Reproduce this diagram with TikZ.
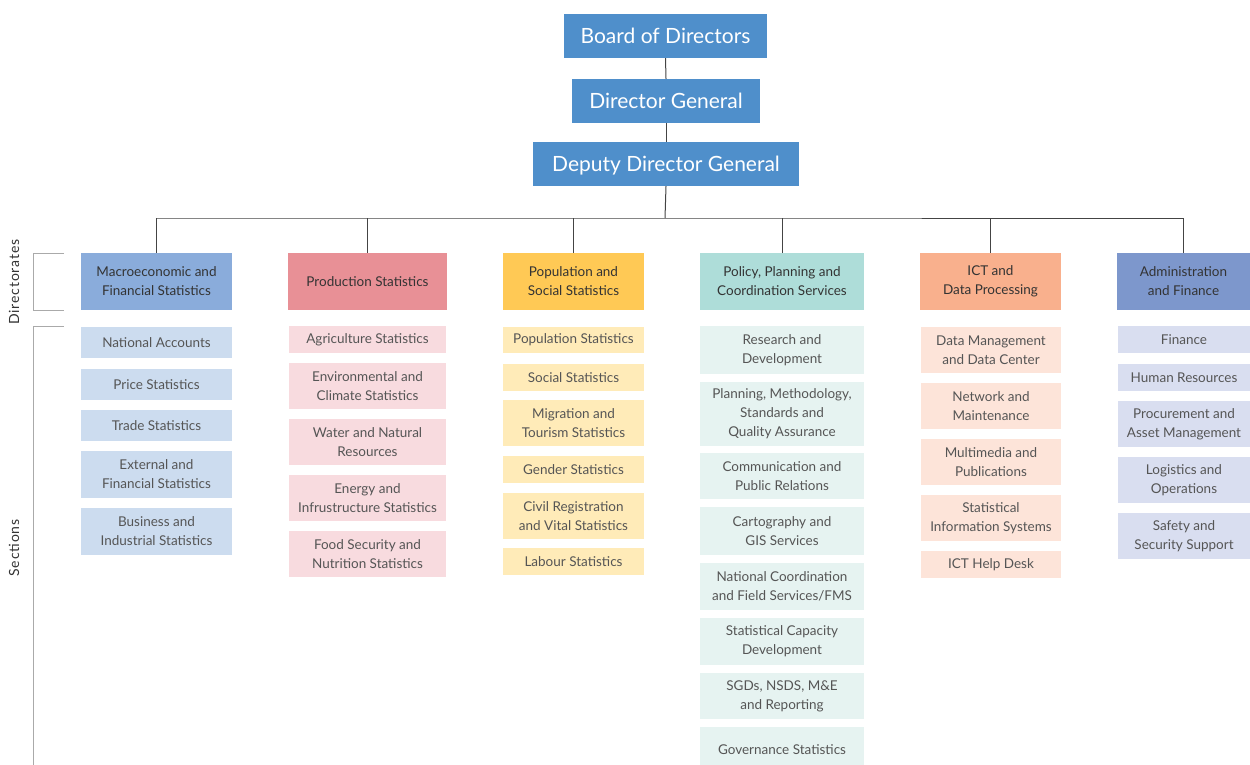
\documentclass[tikz,border=0pt]{standalone}
\usepackage{fontspec}
\setmainfont{Lato}
\definecolor{topblue}{HTML}{4F8FCB}
\definecolor{dmac}{HTML}{8AACDB}\definecolor{smac}{HTML}{CCDCEF}
\definecolor{dpro}{HTML}{E89096}\definecolor{spro}{HTML}{F8DBDF}
\definecolor{dpop}{HTML}{FFC955}\definecolor{spop}{HTML}{FFEBB8}
\definecolor{dpol}{HTML}{AEDDD9}\definecolor{spol}{HTML}{E6F3F1}
\definecolor{dict}{HTML}{F9B08D}\definecolor{sict}{HTML}{FDE4D9}
\definecolor{dadm}{HTML}{7D97CC}\definecolor{sadm}{HTML}{D9DEF0}
\definecolor{linec}{HTML}{444444}
\definecolor{brk}{HTML}{AAAAAA}
\definecolor{dtext}{HTML}{333333}
\definecolor{stext}{HTML}{555555}
\newcommand{\obox}[7]{%
  \node[#1, minimum width={(#5-#3)*1pt}, minimum height={(#6-#4)*1pt}] (#2) at ({(#3+#5)/2},{(#4+#6)/2}) {#7};}
\tikzset{
  topbox/.style={fill=topblue, text=white, inner sep=0pt, text height=15pt, text depth=0pt, font=\fontsize{21}{25}\selectfont},
  dirbox/.style={inner sep=0pt, align=center, text=dtext, font=\fontsize{13.5}{19}\selectfont},
  secbox/.style={inner sep=0pt, align=center, text=stext, font=\fontsize{13.5}{19}\selectfont},
  conn/.style={draw=linec, line width=1pt},
  bracket/.style={draw=brk, line width=1pt},
  sidelabel/.style={rotate=90, text=dtext, font=\fontsize{14}{16}\selectfont\addfontfeatures{LetterSpace=6}}
}
\begin{document}
\begin{tikzpicture}[x=1pt,y=-1pt]
\useasboundingbox (0,0) rectangle (1250,764);
\begin{scope}
\clip (0,0) rectangle (1250,764);
% top
\obox{topbox}{bod}{564}{14}{767}{58}{Board of Directors}
\obox{topbox}{dg}{572}{79}{760}{123}{Director General}
\obox{topbox}{ddg}{533}{142}{799}{186}{Deputy Director General}
% directorates
\obox{dirbox,fill=dmac}{d1}{81}{253}{232}{310}{Macroeconomic and\\Financial Statistics}
\obox{dirbox,fill=dpro}{d2}{288}{253}{447}{310}{Production Statistics}
\obox{dirbox,fill=dpop}{d3}{503}{253}{644}{310}{Population and\\Social Statistics}
\obox{dirbox,fill=dpol}{d4}{700}{253}{864}{310}{Policy, Planning and\\Coordination Services}
\obox{dirbox,fill=dict}{d5}{920}{253}{1061}{310}{ICT and\\Data Processing}
\obox{dirbox,fill=dadm}{d6}{1117}{253}{1250}{310}{Administration\\and Finance}
% connectors
\coordinate (bus) at (665,218);
\draw[conn] (bod.south) -- (dg.north);
\draw[conn] (dg.south) -- (ddg.north);
\draw[conn] (ddg.south) -- (bus);
\draw[conn] (d1.north |- bus) -- (bus) -- (1184,218) coordinate (busr);
\draw[conn] (d1.north) -- (d1.north |- bus);
\draw[conn] (d2.north) -- (d2.north |- bus);
\draw[conn] (d3.north) -- (d3.north |- bus);
\draw[conn] (d4.north) -- (d4.north |- bus);
\draw[conn] (d5.north) -- (d5.north |- bus);
\draw[conn] (d6.north) -- (d6.north |- bus);
% col 1
\obox{secbox,fill=smac}{s11}{81}{327}{232}{358}{National Accounts}
\obox{secbox,fill=smac}{s12}{81}{369}{232}{400}{Price Statistics}
\obox{secbox,fill=smac}{s13}{81}{410}{232}{441}{Trade Statistics}
\obox{secbox,fill=smac}{s14}{81}{451}{232}{498}{External and\\Financial Statistics}
\obox{secbox,fill=smac}{s15}{81}{508}{232}{555}{Business and\\Industrial Statistics}
% col 2
\obox{secbox,fill=spro}{s21}{289}{326}{446}{353}{Agriculture Statistics}
\obox{secbox,fill=spro}{s22}{289}{363}{446}{409}{Environmental and\\Climate Statistics}
\obox{secbox,fill=spro}{s23}{289}{419}{446}{465}{Water and Natural\\Resources}
\obox{secbox,fill=spro}{s24}{289}{475}{446}{521}{Energy and\\Infrustructure Statistics}
\obox{secbox,fill=spro}{s25}{289}{531}{446}{577}{Food Security and\\Nutrition Statistics}
% col 3
\obox{secbox,fill=spop}{s31}{503}{327}{644}{353}{Population Statistics}
\obox{secbox,fill=spop}{s32}{503}{364}{644}{391}{Social Statistics}
\obox{secbox,fill=spop}{s33}{503}{400}{644}{446}{Migration and\\Tourism Statistics}
\obox{secbox,fill=spop}{s34}{503}{456}{644}{483}{Gender Statistics}
\obox{secbox,fill=spop}{s35}{503}{493}{644}{539}{Civil Registration\\and Vital Statistics}
\obox{secbox,fill=spop}{s36}{503}{548}{644}{575}{Labour Statistics}
% col 4
\obox{secbox,fill=spol}{s41}{700}{326}{864}{374}{Research and\\Development}
\obox{secbox,fill=spol}{s42}{700}{382}{864}{446}{Planning, Methodology,\\Standards and\\Quality Assurance}
\obox{secbox,fill=spol}{s43}{700}{453}{864}{499}{Communication and\\Public Relations}
\obox{secbox,fill=spol}{s44}{700}{507}{864}{555}{Cartography and\\GIS Services}
\obox{secbox,fill=spol}{s45}{700}{563}{864}{610}{National Coordination\\and Field Services/FMS}
\obox{secbox,fill=spol}{s46}{700}{618}{864}{665}{Statistical Capacity\\Development}
\obox{secbox,fill=spol}{s47}{700}{673}{864}{719}{SGDs, NSDS, M\&E\\and Reporting}
\obox{secbox,fill=spol}{s48}{700}{727}{864}{773}{Governance Statistics}
% col 5
\obox{secbox,fill=sict}{s51}{921}{327}{1061}{373}{Data Management\\and Data Center}
\obox{secbox,fill=sict}{s52}{921}{383}{1061}{429}{Network and\\Maintenance}
\obox{secbox,fill=sict}{s53}{921}{439}{1061}{485}{Multimedia and\\Publications}
\obox{secbox,fill=sict}{s54}{921}{495}{1061}{541}{Statistical\\Information Systems}
\obox{secbox,fill=sict}{s55}{921}{551}{1061}{578}{ICT Help Desk}
% col 6
\obox{secbox,fill=sadm}{s61}{1118}{326}{1250}{353}{Finance}
\obox{secbox,fill=sadm}{s62}{1118}{364}{1250}{391}{Human Resources}
\obox{secbox,fill=sadm}{s63}{1118}{401}{1250}{447}{Procurement and\\Asset Management}
\obox{secbox,fill=sadm}{s64}{1118}{457}{1250}{503}{Logistics and\\Operations}
\obox{secbox,fill=sadm}{s65}{1118}{513}{1250}{559}{Safety and\\Security Support}
% brackets and side labels
\draw[bracket] (64,253) -- (33,253) -- (33,310) -- (64,310);
\draw[bracket] (64,326) -- (33,326) -- (33,770);
\node[sidelabel] (lbldir) at (14,282) {Directorates};
\node[sidelabel] (lblsec) at (14,548) {Sections};
\end{scope}
\end{tikzpicture}
\end{document}
